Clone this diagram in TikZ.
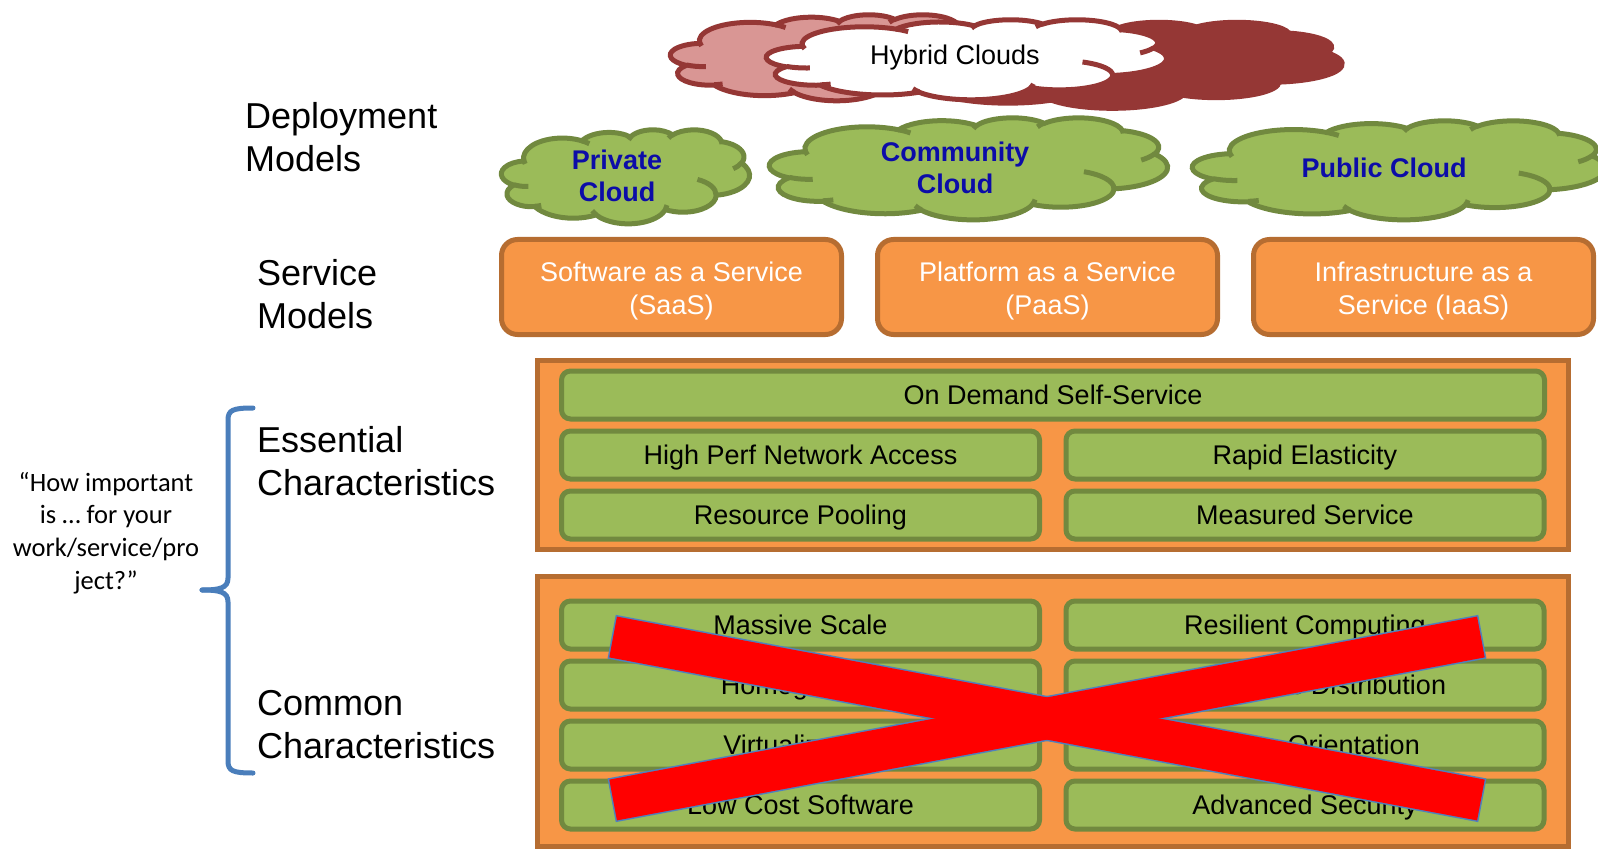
\documentclass[tikz,border=0pt]{standalone}
\usepackage{fontspec}
\setmainfont{Liberation Sans}
\newfontfamily\calibri{Carlito}
\usepackage{tikz}
\definecolor{orangefill}{HTML}{F79646}
\definecolor{orangeline}{HTML}{B66D31}
\definecolor{greenfill}{HTML}{9BBB59}
\definecolor{greenline}{HTML}{71893F}
\definecolor{pinkfill}{HTML}{D99694}
\definecolor{darkred}{HTML}{953735}
\definecolor{cloudtext}{HTML}{0C0CA8}
\definecolor{bracecol}{HTML}{4A7EBB}
\definecolor{crossline}{HTML}{4F81BD}
% cloud outline in a 432 x 432 frame
\newcommand{\cloudoutline}{(39.00,143.70)
  arc[start angle=-187.75,end angle=-59.63,x radius=67.53,y radius=91.90]
  arc[start angle=-152.02,end angle=-45.45,x radius=53.33,y radius=72.67]
  arc[start angle=-153.49,end angle=-37.32,x radius=43.65,y radius=59.45]
  arc[start angle=-139.72,end angle=-10.22,x radius=48.57,y radius=65.95]
  arc[start angle=-74.77,end angle=23.21,x radius=53.33,y radius=72.73]
  arc[start angle=-37.52,end angle=81.86,x radius=67.75,y radius=92.20]
  arc[start angle=0.46,end angle=121.98,x radius=57.85,y radius=78.67]
  arc[start angle=16.84,end angle=146.24,x radius=67.52,y radius=92.15]
  arc[start angle=58.98,end angle=150.19,x radius=77.20,y radius=105.43]
  arc[start angle=-276.69,end angle=-136.88,x radius=43.60,y radius=59.18]
  arc[start angle=-239.64,end angle=-95.89,x radius=43.45,y radius=59.45] -- cycle}
\newcommand{\cloudcreases}{
  (46.93,261.77) arc[start angle=85.54,end angle=120.36,x radius=43.45,y radius=59.45]
  (69.28,348.99) arc[start angle=68.23,end angle=83.31,x radius=43.60,y radius=59.18]
  (164.78,390.90) arc[start angle=146.24,end angle=158.47,x radius=67.52,y radius=92.15]
  (288.27,347.51) arc[start angle=4.73,end angle=16.84,x radius=67.52,y radius=92.15]
  (341.29,229.54) arc[start angle=-64.03,end angle=0.46,x radius=57.85,y radius=78.67]
  (417.98,153.54) arc[start angle=23.21,end angle=49.65,x radius=53.33,y radius=72.73]
  (383.24,54.26) arc[start angle=-10.22,end angle=0.82,x radius=48.57,y radius=65.95]
  (290.78,39.52) arc[start angle=-156.29,end angle=-139.72,x radius=48.57,y radius=65.95]
  (221.41,47.20) arc[start angle=-167.73,end angle=-152.35,x radius=43.65,y radius=59.45]
  (140.00,51.92) arc[start angle=-59.63,end angle=-45.73,x radius=67.53,y radius=91.90]
  (41.27,157.89) arc[start angle=163.19,end angle=172.25,x radius=67.53,y radius=91.90]}

\begin{document}
\begin{tikzpicture}[x=1pt,y=-1pt,
    sidetext/.style={align=left,anchor=west,inner sep=0pt,font=\fontsize{36}{43}\selectfont},
    modelbox/.style={draw=orangeline,fill=orangefill,line width=5pt,rounded corners=16pt,
        minimum width=340pt,minimum height=95pt,text=white,align=center,font=\fontsize{27}{32.5}\selectfont},
    charframe/.style={draw=orangeline,fill=orangefill,line width=5pt,minimum width=1031pt},
    charbar/.style={draw=greenline,fill=greenfill,line width=5pt,rounded corners=9pt,
        minimum height=48pt,minimum width=478pt,text height=19.7pt,text depth=0pt,
        font=\fontsize{27}{32.5}\selectfont},
    greenpuff/.style={draw=greenline,fill=greenfill,line width=5pt},
    hybridpuff/.style={draw=darkred,line width=5pt},
    cloudname/.style={inner sep=0pt,text=cloudtext,align=center,font=\bfseries\fontsize{27}{32}\selectfont},
    brace/.style={draw=bracecol,line width=5pt,line cap=round},
    xband/.style={line width=3pt,draw=crossline}]
\useasboundingbox (0,0) rectangle (1598,850);

\begin{scope}[shift={(872,22)},x=1.08796pt,y=-0.19907pt]
  \path[hybridpuff,fill=darkred] \cloudoutline;
\end{scope}
\begin{scope}[shift={(670.5,14.5)},x=0.75231pt,y=-0.19907pt]
  \path[hybridpuff,fill=pinkfill] \cloudoutline;
  \path[hybridpuff] \cloudcreases;
\end{scope}
\begin{scope}[shift={(766.5,19.5)},x=0.92593pt,y=-0.18519pt]
  \path[hybridpuff,fill=white] \cloudoutline;
  \path[hybridpuff] \cloudcreases;
\end{scope}
\node[inner sep=0pt,font=\fontsize{27}{32}\selectfont] (hybrid) at (955,58) {Hybrid Clouds};

\begin{scope}[shift={(501.5,129.5)},x=0.57407pt,y=-0.21759pt]
  \path[greenpuff] \cloudoutline;
  \path[greenpuff,fill=none] \cloudcreases;
\end{scope}
\begin{scope}[shift={(769.5,117.5)},x=0.92130pt,y=-0.23611pt]
  \path[greenpuff] \cloudoutline;
  \path[greenpuff,fill=none] \cloudcreases;
\end{scope}
\begin{scope}[shift={(1192.5,120.5)},x=0.95602pt,y=-0.22917pt]
  \path[greenpuff] \cloudoutline;
  \path[greenpuff,fill=none] \cloudcreases;
\end{scope}
\node[cloudname] (private) at (617,176) {Private\\Cloud};
\node[cloudname] (community) at (955,168) {Community\\Cloud};
\node[cloudname] (public) at (1384,168) {Public Cloud};

\node[sidetext] (deploy) at (245,137) {Deployment\\Models};
\node[sidetext] (service) at (257,294) {Service\\Models};
\node[sidetext] (essential) at (257,461) {Essential\\Characteristics};
\node[sidetext] (common) at (257,725) {Common\\Characteristics};

\node[modelbox] (saas) at (671.5,287) {\rule{0pt}{28pt}Software as a Service\\(SaaS)};
\node[modelbox] (paas) at (1047.5,287) {\rule{0pt}{28pt}Platform as a Service\\(PaaS)};
\node[modelbox] (iaas) at (1423.5,287) {\rule{0pt}{28pt}Infrastructure as a\\Service (IaaS)};

\node[charframe,minimum height=189pt] (essframe) at (1053,455) {};
\node[charbar,minimum width=983pt] (ondemand) at (1053,395) {On Demand Self-Service};
\node[charbar] (network) at (800.5,455) {High Perf Network Access};
\node[charbar] (elastic) at (1305,455) {Rapid Elasticity};
\node[charbar] (pooling) at (800.5,515) {Resource Pooling};
\node[charbar] (measured) at (1305,515) {Measured Service};

\node[charframe,minimum height=270pt] (comframe) at (1053,711.5) {};
\node[charbar] (massive) at (800.5,625) {Massive Scale};
\node[charbar] (resilient) at (1305,625) {Resilient Computing};
\node[charbar] (homog) at (800.5,685) {Homogeneity};
\node[charbar] (geo) at (1305,685) {Geographic Distribution};
\node[charbar] (virtual) at (800.5,745) {Virtualization};
\node[charbar] (orient) at (1305,745) {Service Orientation};
\node[charbar] (lowcost) at (800.5,805) {Low Cost Software};
\node[charbar] (security) at (1305,805) {Advanced Security};

\path[xband] [rotate around={-10.64:(1047,718.5)}] (605.5,697.75) rectangle (1488.5,739.25);
\path[xband] [rotate around={10.64:(1047,718.5)}] (605.5,697.75) rectangle (1488.5,739.25);
\fill[red] [rotate around={-10.64:(1047,718.5)}] (605.5,697.75) rectangle (1488.5,739.25);
\fill[red] [rotate around={10.64:(1047,718.5)}] (605.5,697.75) rectangle (1488.5,739.25);

\node[align=center,font=\calibri\fontsize{26.5}{32.6}\selectfont] (question) at (106,533)
    {“How important\\is … for your\\work/service/pro\\ject?”};
\coordinate (bracetip) at (202,590);
\draw[brace] (253,408) .. controls (233,408) and (228,410) .. (228,420) -- (228,578)
    .. controls (228,588) and (220,590) .. (bracetip);
\draw[brace] (253,773) .. controls (233,773) and (228,771) .. (228,761) -- (228,602)
    .. controls (228,592) and (220,590) .. (bracetip);
\end{tikzpicture}
\end{document}
